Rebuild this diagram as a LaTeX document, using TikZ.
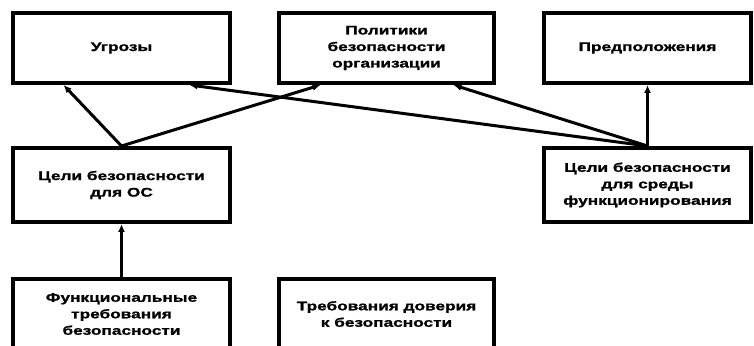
\documentclass[tikz,border=0pt]{standalone}
\usepackage{fontspec}
\setmainfont[FakeStretch=1.38, BoldFeatures={FakeBold=1.2}]{Liberation Sans}
\usetikzlibrary{arrows, arrows.meta}

\begin{document}
\begin{tikzpicture}[x=1pt, y=1pt, >={Latex[length=8pt, width=7pt]},
    box/.style={draw, line width=4pt, align=center, minimum height=70pt,
      font=\fontsize{12.5}{16.5}\selectfont\bfseries},
    link/.style={->, line width=3pt}]
      \useasboundingbox (0,0) rectangle (754,345);
      \clip (0,0) rectangle (754,345);

      % Top row
      \node[box, minimum width=217pt] (threats) at (121.5,297) {Угрозы};
      \node[box, minimum width=215pt] (policy) at (386.5,297) {Политики\\безопасности\\организации};
      \node[box, minimum width=207pt] (assum) at (647.5,297) {Предположения};
      % Objectives
      \node[box, minimum width=217pt, minimum height=74pt] (goalsTOE) at (121.5,160) {Цели безопасности\\для ОС};
      \node[box, minimum width=207pt, minimum height=74pt] (goalsEnv) at (647.5,160) {Цели безопасности\\для среды\\функционирования};
      % Requirements
      \node[box, minimum width=217pt] (funcReq) at (121.5,31) {Функциональные\\требования\\безопасности};
      \node[box, minimum width=215pt] (assurReq) at (386.5,31) {Требования доверия\\к безопасности};

      \draw[link] (goalsTOE.north) -- ([xshift=-58pt]threats.south);
      \draw[link] (goalsTOE.north) -- ([xshift=-66pt]policy.south);
      \draw[link] (goalsEnv.north) -- ([xshift=68pt]threats.south);
      \draw[link] (goalsEnv.north) -- ([xshift=67pt]policy.south);
      \draw[link] (goalsEnv.north) -- (assum.south);
      \draw[link] (funcReq.north) -- (goalsTOE.south);
    \end{tikzpicture}
\end{document}
